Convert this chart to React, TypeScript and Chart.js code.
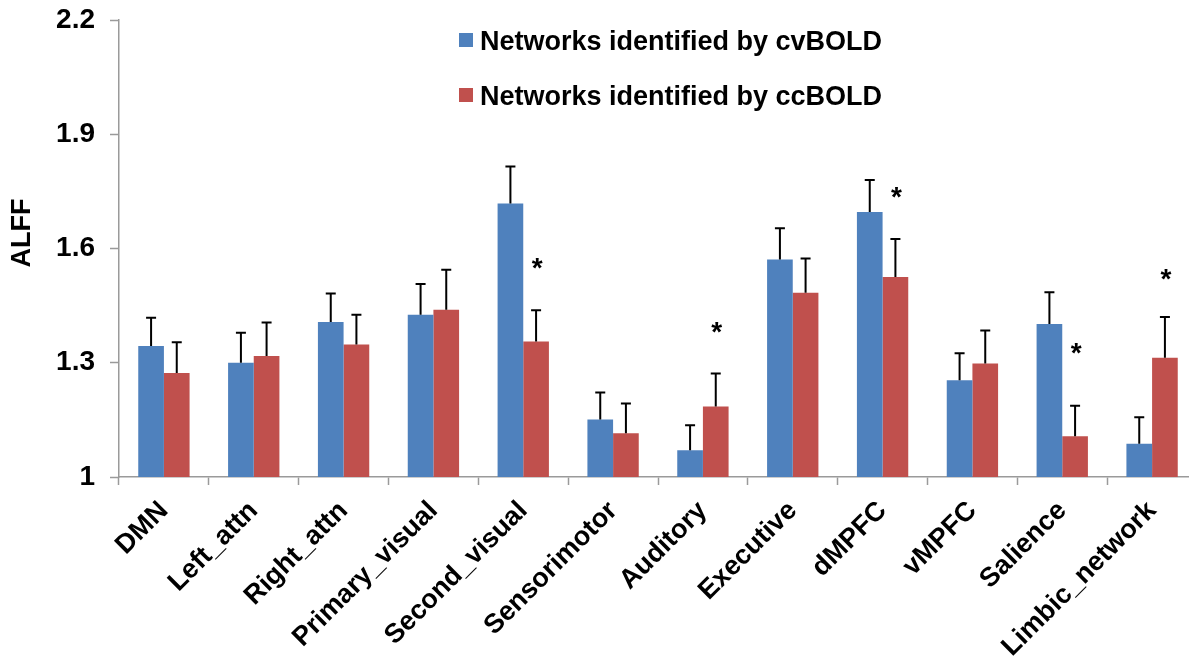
import React, { useEffect, useRef } from 'react';
import { Chart, registerables } from 'chart.js';

Chart.register(...registerables);

// Brain networks on the x axis
const categories = [
  'DMN', 'Left_attn', 'Right_attn', 'Primary_visual', 'Second_visual', 'Sensorimotor',
  'Auditory', 'Executive', 'dMPFC', 'vMPFC', 'Salience', 'Limbic_network',
];

// Mean ALFF and its error (upper whisker) for each identification method
const cvBOLD = [1.344, 1.300, 1.407, 1.426, 1.718, 1.151, 1.070, 1.571, 1.696, 1.254, 1.402, 1.087];
const cvBOLDErr = [0.074, 0.079, 0.075, 0.081, 0.097, 0.071, 0.066, 0.082, 0.084, 0.071, 0.083, 0.070];
const ccBOLD = [1.273, 1.318, 1.348, 1.439, 1.356, 1.115, 1.185, 1.484, 1.525, 1.298, 1.107, 1.313];
const ccBOLDErr = [0.081, 0.088, 0.078, 0.105, 0.082, 0.078, 0.087, 0.090, 0.100, 0.087, 0.080, 0.107];

// Significance markers: network and the ALFF level where the asterisk sits
const starNetworks = ['Second_visual', 'Auditory', 'dMPFC', 'Salience', 'Limbic_network'];
const starLevels = [1.56, 1.39, 1.746, 1.337, 1.53];

// Y axis ticks
const yTicks = [1, 1.3, 1.6, 1.9, 2.2];

const seriesLabels = ['Networks identified by cvBOLD', 'Networks identified by ccBOLD'];
const BLUE = '#4F81BD';
const RED = '#C0504D';
const AXIS = '#9a9a9a';
const FONT = '"Liberation Sans", Arial, Helvetica, sans-serif';

const errorBarPlugin = {
  id: 'errorBars',
  afterDatasetsDraw(chart: any, _args: any, opts: any) {
    const { ctx } = chart;
    const yScale = chart.scales.y;
    ctx.save();
    ctx.strokeStyle = opts.color;
    ctx.lineWidth = opts.lineWidth;
    chart.data.datasets.forEach((ds: any, di: number) => {
      const meta = chart.getDatasetMeta(di);
      meta.data.forEach((bar: any, i: number) => {
        const top = yScale.getPixelForValue(ds.data[i] + ds.errors[i]);
        ctx.beginPath();
        ctx.moveTo(bar.x, bar.y);
        ctx.lineTo(bar.x, top);
        ctx.moveTo(bar.x - opts.capWidth / 2, top);
        ctx.lineTo(bar.x + opts.capWidth / 2, top);
        ctx.stroke();
      });
    });
    ctx.restore();
  },
};

const starPlugin = {
  id: 'stars',
  afterDatasetsDraw(chart: any, _args: any, opts: any) {
    const { ctx } = chart;
    const yScale = chart.scales.y;
    const meta = chart.getDatasetMeta(1);
    ctx.save();
    ctx.fillStyle = '#000';
    ctx.font = `bold ${opts.size}px ${FONT}`;
    ctx.textAlign = 'center';
    ctx.textBaseline = 'alphabetic';
    starNetworks.forEach((name, k) => {
      const idx = categories.indexOf(name);
      const bar: any = meta.data[idx];
      const cy = yScale.getPixelForValue(starLevels[k]);
      ctx.fillText('*', bar.x + opts.dx, cy + opts.size * 0.46);
    });
    ctx.restore();
  },
};

const boxLegendPlugin = {
  id: 'boxLegend',
  afterDraw(chart: any, _args: any, opts: any) {
    const { ctx } = chart;
    ctx.save();
    ctx.font = `bold ${opts.size}px ${FONT}`;
    ctx.textAlign = 'left';
    ctx.textBaseline = 'alphabetic';
    chart.data.datasets.forEach((ds: any, i: number) => {
      const cy = opts.y + i * opts.rowGap;
      ctx.fillStyle = ds.backgroundColor;
      ctx.fillRect(opts.x, cy - opts.box / 2, opts.box, opts.box);
      ctx.fillStyle = '#000';
      ctx.fillText(ds.label, opts.x + opts.box + opts.gap, cy + opts.size * 0.716 / 2);
    });
    ctx.restore();
  },
};

const axisTitlePlugin = {
  id: 'axisTitle',
  afterDraw(chart: any, _args: any, opts: any) {
    const { ctx } = chart;
    ctx.save();
    ctx.translate(opts.x, opts.y);
    ctx.rotate(-Math.PI / 2);
    ctx.font = `bold ${opts.size}px ${FONT}`;
    ctx.fillStyle = '#000';
    ctx.textAlign = 'center';
    ctx.textBaseline = 'middle';
    ctx.fillText(opts.text, 0, 0);
    ctx.restore();
  },
};

export default function App() {
  const canvasRef = useRef<HTMLCanvasElement | null>(null);

  useEffect(() => {
    const canvas = canvasRef.current;
    if (!canvas) return;
    const chart = new Chart(canvas, {
      type: 'bar',
      data: {
        labels: categories,
        datasets: [
          {
            label: seriesLabels[0],
            data: cvBOLD,
            errors: cvBOLDErr,
            backgroundColor: BLUE,
            borderWidth: 0,
            categoryPercentage: 2 / 3.5,
            barPercentage: 1,
          } as any,
          {
            label: seriesLabels[1],
            data: ccBOLD,
            errors: ccBOLDErr,
            backgroundColor: RED,
            borderWidth: 0,
            categoryPercentage: 2 / 3.5,
            barPercentage: 1,
          } as any,
        ],
      },
      options: {
        responsive: false,
        animation: false,
        devicePixelRatio: 1,
        layout: { padding: { top: 20, right: 8, left: 0, bottom: 0 } },
        plugins: {
          legend: { display: false },
          tooltip: { enabled: false },
          errorBars: { color: '#000', lineWidth: 2, capWidth: 10 },
          stars: { size: 28, dx: 1 },
          boxLegend: { x: 459, y: 40, rowGap: 55, box: 14, gap: 7, size: 27 },
          axisTitle: { text: 'ALFF', x: 23, y: 233, size: 27 },
        } as any,
        scales: {
          x: {
            grid: {
              display: true,
              drawOnChartArea: false,
              drawTicks: true,
              tickLength: 8,
              tickColor: AXIS,
              tickWidth: 1.5,
              offset: true,
            },
            border: { display: true, color: AXIS, width: 1.5 },
            ticks: {
              autoSkip: false,
              maxRotation: 45,
              minRotation: 45,
              padding: 10,
              labelOffset: 0,
              color: '#000',
              font: { family: FONT, size: 27, weight: 'bold' },
            },
            afterFit: (scale: any) => {
              scale.height = 182;
            },
          },
          y: {
            min: yTicks[0],
            max: yTicks[yTicks.length - 1],
            afterBuildTicks: (scale: any) => {
              scale.ticks = yTicks.map((v) => ({ value: v }));
            },
            grid: {
              display: true,
              drawOnChartArea: false,
              drawTicks: true,
              tickLength: 9,
              tickColor: AXIS,
              tickWidth: 1.5,
            },
            border: { display: true, color: AXIS, width: 1.5 },
            ticks: {
              padding: 15,
              color: '#000',
              font: { family: FONT, size: 28, weight: 'bold' },
              callback: (v: any) => String(Number(Number(v).toFixed(1))),
            },
            afterFit: (scale: any) => {
              scale.width = 119;
              scale.paddingTop = 0;
              scale.paddingBottom = 0;
            },
          },
        },
      },
      plugins: [errorBarPlugin, starPlugin, boxLegendPlugin, axisTitlePlugin],
    });
    return () => chart.destroy();
  }, []);

  return (
    <div
      style={{
        position: 'fixed',
        left: 0,
        top: 0,
        width: 1189,
        height: 659,
        overflow: 'hidden',
        background: '#ffffff',
      }}
    >
      <canvas ref={canvasRef} width={1205} height={659} style={{ display: 'block' }} />
    </div>
  );
}
